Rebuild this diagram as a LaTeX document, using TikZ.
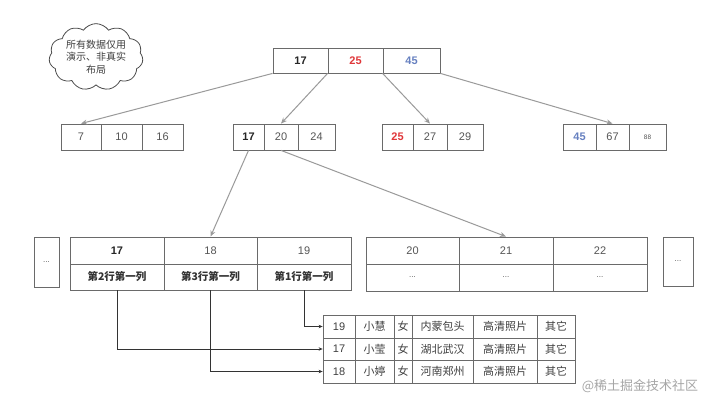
\documentclass[tikz,border=0pt]{standalone}
\usepackage{fontspec}
\setmainfont{Liberation Sans}
\newfontfamily\cjk{Noto Sans CJK SC}
\usetikzlibrary{shapes.symbols,arrows.meta}
\definecolor{bord}{HTML}{6A6A6A}
\definecolor{txt}{HTML}{555555}
\definecolor{arr}{HTML}{9A9A9A}
\definecolor{redk}{HTML}{E0373A}
\definecolor{bluek}{HTML}{6680C0}
\begin{document}
\begin{tikzpicture}[x=1pt,y=-1pt,
  cell/.style={draw=bord,line width=0.8pt,inner sep=0pt,font=\fontsize{11}{13}\selectfont,text=txt},
  keyarrow/.style={draw=arr,line width=1pt,-{Stealth[length=6pt,width=5pt]}},
  ptr/.style={draw=black!80,line width=0.9pt,-{Stealth[length=4pt,width=3.5pt]}}]
\useasboundingbox (0,0) rectangle (720,411);
\fill[white] (0,0) rectangle (720,411);
% helper: cell by edges
\newcommand{\cellat}[6][]{\node[cell,#1,minimum width={#4-#3},minimum height={#6-#5}] (#2) at ({(#3+#4)/2},{(#5+#6)/2})}
% cloud
\node[cloud,cloud puffs=11,cloud puff arc=110,aspect=1.5,draw=black!70,line width=0.8pt,minimum width=94pt,minimum height=66pt,inner sep=0pt,align=center,font=\cjk\fontsize{10}{12.5}\selectfont,text=black!75] (cloud) at (96,57) {所有数据仅用\\演示、非真实\\布局};
% top
\cellat{t1}{273}{328}{48}{73}{\textbf{\color{black!85}17}};
\cellat{t2}{328}{383}{48}{73}{\textbf{\color{redk}25}};
\cellat{t3}{383}{440}{48}{73}{\textbf{\color{bluek}45}};
% level 2
\cellat{aa}{61}{101}{124}{150}{7};
\cellat{ab}{101}{142}{124}{150}{10};
\cellat{ac}{142}{183}{124}{150}{16};
\cellat{ba}{233}{264}{124}{150}{\textbf{\color{black!85}17}};
\cellat{bb}{264}{298}{124}{150}{20};
\cellat{bc}{298}{335}{124}{150}{24};
\cellat{ca}{382}{413}{124}{150}{\textbf{\color{redk}25}};
\cellat{cb}{413}{447}{124}{150}{27};
\cellat{cc}{447}{483}{124}{150}{29};
\cellat{da}{563}{596}{124}{150}{\textbf{\color{bluek}45}};
\cellat{db}{596}{629}{124}{150}{67};
\cellat[font=\fontsize{6.5}{7}\selectfont]{dc}{629}{666}{124}{150}{88};
% leaves
\cellat[font=\fontsize{8}{9}\selectfont]{dl}{34}{59}{237}{287}{...};
\cellat{la}{70}{164}{237}{264}{\textbf{\color{black!85}17}};
\cellat{lb}{164}{257}{237}{264}{18};
\cellat{lc}{257}{351}{237}{264}{19};
\cellat[font=\cjk\bfseries\fontsize{10.5}{12}\selectfont,text=black!80]{lA}{70}{164}{264}{290}{第2行第一列};
\cellat[font=\cjk\bfseries\fontsize{10.5}{12}\selectfont,text=black!80]{lB}{164}{257}{264}{290}{第3行第一列};
\cellat[font=\cjk\bfseries\fontsize{10.5}{12}\selectfont,text=black!80]{lC}{257}{351}{264}{290}{第1行第一列};
\cellat{ma}{366}{459}{237}{264}{20};
\cellat{mb}{459}{553}{237}{264}{21};
\cellat{mc}{553}{647}{237}{264}{22};
\cellat[font=\fontsize{8}{9}\selectfont]{mA}{366}{459}{264}{291}{...};
\cellat[font=\fontsize{8}{9}\selectfont]{mB}{459}{553}{264}{291}{...};
\cellat[font=\fontsize{8}{9}\selectfont]{mC}{553}{647}{264}{291}{...};
\cellat[font=\fontsize{8}{9}\selectfont]{dr}{663}{693}{237}{286}{...};
% table
\tikzset{tc/.style={cell,font=\cjk\fontsize{11}{12}\selectfont,text=black!75}}
\cellat[tc,font=\fontsize{11}{13}\selectfont]{r1a}{323}{355}{315}{338}{19};
\cellat[tc]{r1b}{355}{394}{315}{338}{小慧};
\cellat[tc]{r1c}{394}{412}{315}{338}{女};
\cellat[tc]{r1d}{412}{473}{315}{338}{内蒙包头};
\cellat[tc]{r1e}{473}{537}{315}{338}{高清照片};
\cellat[tc]{r1f}{537}{575}{315}{338}{其它};
\cellat[tc,font=\fontsize{11}{13}\selectfont]{r2a}{323}{355}{338}{360}{17};
\cellat[tc]{r2b}{355}{394}{338}{360}{小莹};
\cellat[tc]{r2c}{394}{412}{338}{360}{女};
\cellat[tc]{r2d}{412}{473}{338}{360}{湖北武汉};
\cellat[tc]{r2e}{473}{537}{338}{360}{高清照片};
\cellat[tc]{r2f}{537}{575}{338}{360}{其它};
\cellat[tc,font=\fontsize{11}{13}\selectfont]{r3a}{323}{355}{360}{383}{18};
\cellat[tc]{r3b}{355}{394}{360}{383}{小婷};
\cellat[tc]{r3c}{394}{412}{360}{383}{女};
\cellat[tc]{r3d}{412}{473}{360}{383}{河南郑州};
\cellat[tc]{r3e}{473}{537}{360}{383}{高清照片};
\cellat[tc]{r3f}{537}{575}{360}{383}{其它};
% key arrows
\draw[keyarrow] (t1.south west) -- (aa.north);
\draw[keyarrow] (t2.south west) -- (bb.north);
\draw[keyarrow] (t3.south west) -- (cb.north);
\draw[keyarrow] (t3.south east) -- (db.north);
\draw[keyarrow] (ba.south) -- (lb.north);
\draw[keyarrow] (bb.south) -- (mb.north);
% row pointers
\draw[ptr] (lC.south) |- (r1a.west);
\draw[ptr] (lA.south) |- (r2a.west);
\draw[ptr] (lB.south) |- (r3a.west);
% watermark
\node[font=\cjk\fontsize{13}{15}\selectfont,text=black!35,inner sep=0pt] (wm) at (640,386) {@稀土掘金技术社区};
\end{tikzpicture}
\end{document}
